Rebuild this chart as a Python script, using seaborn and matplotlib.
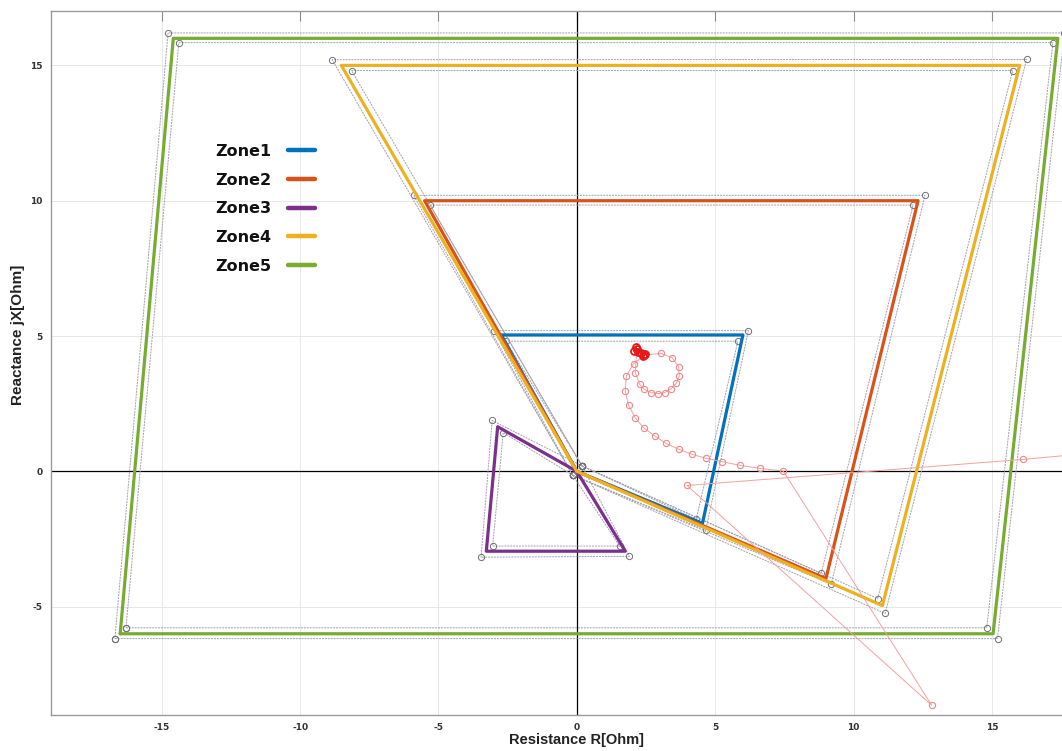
import numpy as np
import pandas as pd
import matplotlib
matplotlib.use("Agg")
import matplotlib.pyplot as plt
import seaborn as sns

# ── Zone characteristics (R, X) ───────────────────────────────
zone_names = ["Zone1", "Zone2", "Zone3", "Zone4", "Zone5"]
zone_colors = ["#0072BD", "#D95319", "#7E2F8E", "#EDB120", "#77AC30"]

zone1_r = [0.0, 4.54, 6.00, -2.73, 0.0]
zone1_x = [0.0, -1.92, 5.04, 5.04, 0.0]
zone2_r = [0.0, 9.00, 12.33, -5.50, 0.0]
zone2_x = [0.0, -3.96, 10.00, 10.00, 0.0]
zone3_r = [0.0, -2.86, -3.27, 1.75, 0.0]
zone3_x = [0.0, 1.65, -2.95, -2.95, 0.0]
zone4_r = [0.0, 11.04, 16.00, -8.51, 0.0]
zone4_x = [0.0, -4.96, 15.00, 15.00, 0.0]
zone5_r = [-16.50, 15.04, 17.38, -14.58, -16.50]
zone5_x = [-6.00, -6.00, 16.00, 16.00, -6.00]

# outer / inner tolerance outlines
zone1_out_r = [-0.15, 4.66, 6.20, -3.00, -0.15]
zone1_out_x = [-0.14, -2.17, 5.20, 5.20, -0.14]
zone1_in_r = [0.19, 4.31, 5.82, -2.56, 0.19]
zone1_in_x = [0.20, -1.77, 4.81, 4.81, 0.20]
zone2_out_r = [-0.15, 9.19, 12.58, -5.90, -0.15]
zone2_out_x = [-0.14, -4.17, 10.20, 10.20, -0.14]
zone2_in_r = [0.19, 8.83, 12.15, -5.30, 0.19]
zone2_in_x = [0.20, -3.77, 9.84, 9.84, 0.20]
zone3_out_r = [0.19, -3.06, -3.46, 1.90, 0.19]
zone3_out_x = [0.20, 1.88, -3.17, -3.14, 0.20]
zone3_in_r = [-0.15, -2.66, -3.04, 1.55, -0.15]
zone3_in_x = [-0.14, 1.43, -2.76, -2.76, -0.14]
zone4_out_r = [-0.15, 11.14, 16.25, -8.84, -0.15]
zone4_out_x = [-0.14, -5.25, 15.22, 15.21, -0.14]
zone4_in_r = [0.19, 10.87, 15.75, -8.14, 0.19]
zone4_in_x = [0.20, -4.70, 14.81, 14.81, 0.20]
zone5_out_r = [-16.69, 15.20, 17.62, -14.77, -16.69]
zone5_out_x = [-6.18, -6.18, 16.20, 16.20, -6.18]
zone5_in_r = [-16.29, 14.81, 17.20, -14.38, -16.29]
zone5_in_x = [-5.78, -5.78, 15.84, 15.84, -5.78]

# ── Impedance trajectory ──────────────────────────────────────
traj_r = [22.0, 16.11, 3.98, 12.82, 7.46, 6.62, 5.90, 5.24, 4.68, 4.16,
          3.70, 3.23, 2.83, 2.41, 2.11, 1.87, 1.75, 1.79, 2.05, 2.47,
          3.04, 3.44, 3.68, 3.70, 3.59, 3.40, 3.17, 2.93, 2.68, 2.44,
          2.27, 2.11, 2.17]
traj_x = [1.00, 0.44, -0.52, -8.64, 0.01, 0.11, 0.22, 0.36, 0.48, 0.63,
          0.81, 1.03, 1.30, 1.61, 1.98, 2.44, 2.97, 3.52, 3.98, 4.30,
          4.36, 4.20, 3.87, 3.52, 3.25, 3.05, 2.91, 2.87, 2.91, 3.03,
          3.21, 3.65, 4.51]
final_r = [2.17, 2.05, 2.12, 2.22, 2.32, 2.42, 2.46, 2.38]
final_x = [4.51, 4.45, 4.60, 4.42, 4.36, 4.30, 4.34, 4.27]

zones = [(zone1_r, zone1_x), (zone2_r, zone2_x), (zone3_r, zone3_x),
         (zone4_r, zone4_x), (zone5_r, zone5_x)]
outlines = [(zone1_out_r, zone1_out_x), (zone1_in_r, zone1_in_x),
            (zone2_out_r, zone2_out_x), (zone2_in_r, zone2_in_x),
            (zone3_out_r, zone3_out_x), (zone3_in_r, zone3_in_x),
            (zone4_out_r, zone4_out_x), (zone4_in_r, zone4_in_x),
            (zone5_out_r, zone5_out_x), (zone5_in_r, zone5_in_x)]

sns.set_style("white")
plt.rcParams["axes.unicode_minus"] = False
fig = plt.figure(figsize=(10.62, 7.51), dpi=100)
ax = fig.add_axes([0.048, 0.048, 0.952, 0.937])

ax.grid(True, color="#e8e8e8", linewidth=0.7)
ax.set_axisbelow(True)
ax.axhline(0, color="black", linewidth=0.9, zorder=1)
ax.axvline(0, color="black", linewidth=0.9, zorder=1)

# thin tolerance outlines with vertex circles
for r, x in outlines:
    sns.lineplot(x=r, y=x, sort=False, estimator=None, ax=ax,
                 color="#a09eb4", linewidth=0.7, linestyle=(0, (2, 1)),
                 marker="o", markersize=4.5, markerfacecolor="none",
                 markeredgecolor="#707070", markeredgewidth=0.7, zorder=2)

# main zone polygons
for (r, x), name, col in zip(zones, zone_names, zone_colors):
    sns.lineplot(x=r, y=x, sort=False, estimator=None, ax=ax,
                 color=col, linewidth=2.3, label=name, zorder=3)

# trajectory
sns.lineplot(x=traj_r, y=traj_x, sort=False, estimator=None, ax=ax,
             color="#f4a0a0", linewidth=0.7, marker="o", markersize=4.5,
             markerfacecolor="none", markeredgecolor="#f08888",
             markeredgewidth=0.8, zorder=4)
sns.lineplot(x=final_r, y=final_x, sort=False, estimator=None, ax=ax,
             color="#ee2020", linewidth=1.2, marker="o", markersize=5,
             markerfacecolor="none", markeredgecolor="#e81818",
             markeredgewidth=1.3, zorder=5)

ax.set_xlim(-19, 17.53)
ax.set_ylim(-9, 17)
ax.set_xticks([-15, -10, -5, 0, 5, 10, 15])
ax.set_yticks([-5, 0, 5, 10, 15])
ax.tick_params(direction="in", length=7, width=0.8, color="#8a8a8a",
               labelsize=6.5, labelcolor="#333333", top=True, right=False,
               pad=6)
for lab in ax.get_xticklabels() + ax.get_yticklabels():
    lab.set_fontweight("bold")
for side in ["left", "bottom", "top"]:
    ax.spines[side].set_color("#9a9a9a")
    ax.spines[side].set_linewidth(1.0)
ax.spines["right"].set_visible(False)

ax.set_xlabel("Resistance R[Ohm]", fontsize=10.5, fontweight="bold",
              family="Liberation Sans", color="#222222")
ax.set_ylabel("Reactance jX[Ohm]", fontsize=11, fontweight="bold",
              family="Liberation Sans", color="#222222")
ax.xaxis.set_label_coords(0.52, -0.026)
ax.yaxis.set_label_coords(-0.026, 0.54)

handles, labels = ax.get_legend_handles_labels()
keep = [(h, l) for h, l in zip(handles, labels) if l in zone_names]
leg = ax.legend([h for h, _ in keep], [l for _, l in keep],
                loc="upper left", bbox_to_anchor=(0.148, 0.832),
                frameon=False, markerfirst=False, handlelength=1.7,
                handletextpad=1.05, labelspacing=0.86,
                prop={"weight": "bold", "size": 11.5, "family": "DejaVu Sans"})
for line in leg.get_lines():
    line.set_linewidth(3.2)
for txt in leg.get_texts():
    txt.set_color("#111111")

fig.savefig("out.png", dpi=100)
